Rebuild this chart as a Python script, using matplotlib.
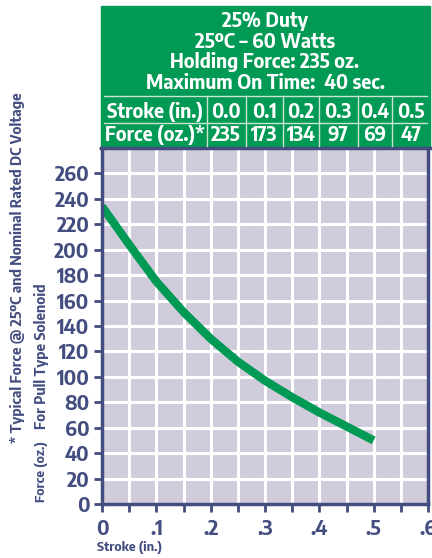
import matplotlib
matplotlib.use("Agg")
from matplotlib import pyplot as plt
from matplotlib.patches import Rectangle
from matplotlib.lines import Line2D

# values
stroke_tbl = ["0.0", "0.1", "0.2", "0.3", "0.4", "0.5"]
force_tbl = ["235", "173", "134", "97", "69", "47"]
curve_x = [0.0, 0.05, 0.10, 0.15, 0.20, 0.25, 0.30, 0.35, 0.40, 0.45, 0.50]
curve_y = [234, 204, 175, 151, 130, 112, 97, 84, 72, 61, 50]
title_lines = ["25% Duty", "25ºC – 60 Watts", "Holding Force: 235 oz.", "Maximum On Time:  40 sec."]

NAVY = "#434d80"
GREEN = "#009a55"
BG = "#d0ccdc"
FONT = ["Encode Sans Semi Condensed", "DejaVu Sans"]

W, H = 432, 558
fig = plt.figure(figsize=(W / 100, H / 100), dpi=100)

def fx(px):
    return px / W

def fy(py):
    return 1 - py / H

ax = fig.add_axes([fx(102), fy(504), fx(428) - fx(102), fy(148) - fy(504)])
ax.set_facecolor(BG)
ax.set_xlim(0, 0.6)
ax.set_ylim(0, 280)
ax.set_xticks([i * 0.05 for i in range(13)])
ax.set_xticklabels(["0", "", ".1", "", ".2", "", ".3", "", ".4", "", ".5", "", ".6"])
ax.set_yticks(range(0, 280, 20))
ax.set_yticks(range(0, 281, 20), minor=True)
ax.grid(True, which="both", color="white", lw=2.2)
ax.set_axisbelow(True)
for s in ["left", "bottom", "right"]:
    ax.spines[s].set_color(NAVY)
    ax.spines[s].set_linewidth(2.5)
ax.spines["top"].set_visible(False)
ax.tick_params(colors=NAVY, width=2, length=6, pad=3, labelsize=14.5)
ax.tick_params(axis="x", pad=5)
for lab in ax.get_xticklabels() + ax.get_yticklabels():
    lab.set_family(FONT)
    lab.set_fontweight("bold")

ax.plot(curve_x, curve_y, color=GREEN, lw=6, solid_capstyle="butt", solid_joinstyle="round")

# green header box
fig.patches.append(Rectangle((fx(101), fy(148)), fx(430) - fx(101), fy(6) - fy(148),
                             transform=fig.transFigure, color=GREEN, zorder=0))
fig.lines.append(Line2D([fx(101), fx(430)], [fy(148), fy(148)], transform=fig.transFigure,
                        color=NAVY, lw=2.5))
for i, t in enumerate(title_lines):
    fig.text(fx(265), fy([27, 48, 68, 89][i]), t, color="white", fontsize=14, fontweight="bold",
             family=FONT, ha="center", va="baseline")

# table grid
lc = "#c8e6d0"
fig.lines.append(Line2D([fx(104), fx(427)], [fy(96), fy(96)], transform=fig.transFigure, color=lc, lw=1))
fig.lines.append(Line2D([fx(104), fx(427)], [fy(123), fy(123)], transform=fig.transFigure, color=lc, lw=1))
for vx in [207, 246, 283, 319, 358, 392]:
    fig.lines.append(Line2D([fx(vx), fx(vx)], [fy(96), fy(146)], transform=fig.transFigure, color=lc, lw=1))
cell_cx = [226, 264, 301, 338, 375, 411]
fig.text(fx(155), fy(118), "Stroke (in.)", color="white", fontsize=14, fontweight="bold",
         family=FONT, ha="center", va="baseline")
fig.text(fx(155), fy(141.5), "Force (oz.)*", color="white", fontsize=14, fontweight="bold",
         family=FONT, ha="center", va="baseline")
for cx, s, f in zip(cell_cx, stroke_tbl, force_tbl):
    fig.text(fx(cx), fy(118), s, color="white", fontsize=14, fontweight="bold",
             family=FONT, ha="center", va="baseline")
    fig.text(fx(cx), fy(141.5), f, color="white", fontsize=14, fontweight="bold",
             family=FONT, ha="center", va="baseline")

# side notes
fig.text(fx(18), fy(268), "* Typical Force @ 25ºC and Nominal Rated DC Voltage", color=NAVY,
         fontsize=10.5, fontweight="bold", family=FONT, rotation=90, ha="center", va="center")
fig.text(fx(42), fy(356), "For Pull Type Solenoid", color=NAVY,
         fontsize=10.5, fontweight="bold", family=FONT, rotation=90, ha="center", va="center")
fig.text(fx(42), fy(502), "Force (oz.)", color=NAVY,
         fontsize=9.5, fontweight="bold", family=FONT, rotation=90, ha="center", va="bottom")
fig.text(fx(97), fy(548), "Stroke (in.)", color=NAVY,
         fontsize=9.5, fontweight="bold", family=FONT, ha="left", va="center")

fig.savefig("out.png", dpi=100)
